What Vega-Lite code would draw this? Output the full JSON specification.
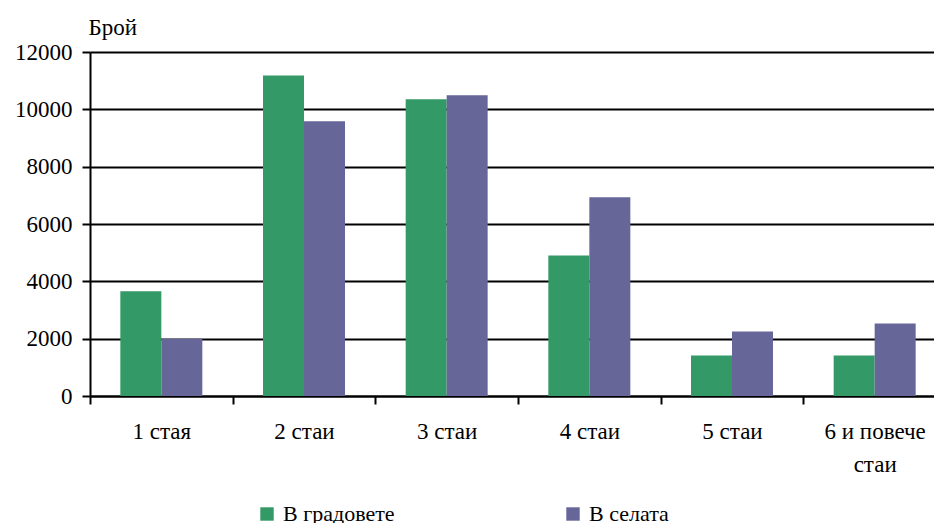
{
  "$schema": "https://vega.github.io/schema/vega-lite/v6.json",
  "autosize": "none",
  "width": 856,
  "height": 344,
  "padding": {"left": 90, "top": 52, "right": 0, "bottom": 127},
  "background": "white",
  "config": {
    "view": {"stroke": null},
    "font": "'Liberation Serif', 'Times New Roman', Tinos, 'DejaVu Serif', serif",
    "axis": {"labelColor": "black", "titleColor": "black", "domainColor": "black", "tickColor": "black"}
  },
  "data": {
    "values": [
      {"cat": "1 стая", "series": "В градовете", "value": 3650},
      {"cat": "1 стая", "series": "В селата", "value": 1995},
      {"cat": "2 стаи", "series": "В градовете", "value": 11180},
      {"cat": "2 стаи", "series": "В селата", "value": 9580},
      {"cat": "3 стаи", "series": "В градовете", "value": 10350},
      {"cat": "3 стаи", "series": "В селата", "value": 10490},
      {"cat": "4 стаи", "series": "В градовете", "value": 4900},
      {"cat": "4 стаи", "series": "В селата", "value": 6930},
      {"cat": "5 стаи", "series": "В градовете", "value": 1410},
      {"cat": "5 стаи", "series": "В селата", "value": 2250},
      {"cat": "6 и повече стаи", "series": "В градовете", "value": 1410},
      {"cat": "6 и повече стаи", "series": "В селата", "value": 2530}
    ]
  },
  "mark": {"type": "bar"},
  "encoding": {
    "x": {
      "field": "cat",
      "type": "nominal",
      "sort": null,
      "scale": {"paddingInner": 0, "paddingOuter": 0},
      "axis": {
        "title": null,
        "labelAngle": 0,
        "labelFont": "'Liberation Serif', 'Times New Roman', Tinos, 'DejaVu Serif', serif",
        "labelFontSize": 23,
        "labelPadding": 16,
        "tickBand": "extent",
        "tickSize": 8,
        "tickWidth": 2,
        "domainWidth": 2,
        "labelLineHeight": 33,
        "labelBaseline": "top",
        "labelExpr": "datum.label == '6 и повече стаи' ? ['6 и повече', 'стаи'] : datum.label"
      }
    },
    "xOffset": {"field": "series", "type": "nominal", "scale": {"paddingInner": 0, "paddingOuter": 0.74}},
    "y": {
      "field": "value",
      "type": "quantitative",
      "scale": {"domain": [0, 12000], "nice": false},
      "axis": {
        "title": "Брой",
        "titleAngle": 0,
        "titleAlign": "left",
        "titleBaseline": "alphabetic",
        "titleX": -2,
        "titleY": -18,
        "titleFont": "'Liberation Serif', 'Times New Roman', Tinos, 'DejaVu Serif', serif",
        "titleFontSize": 23,
        "titleFontWeight": "normal",
        "values": [0, 2000, 4000, 6000, 8000, 10000, 12000],
        "format": "d",
        "labelFont": "'Liberation Serif', 'Times New Roman', Tinos, 'DejaVu Serif', serif",
        "labelFontSize": 23,
        "labelPadding": 10,
        "tickSize": 8,
        "tickWidth": 2,
        "domainWidth": 2,
        "grid": true,
        "gridColor": "black",
        "gridWidth": 2,
        "gridOpacity": 1
      }
    },
    "color": {
      "field": "series",
      "type": "nominal",
      "scale": {"domain": ["В градовете", "В селата"], "range": ["#339966", "#666699"]},
      "legend": {
        "title": null,
        "orient": "none",
        "direction": "horizontal",
        "columns": 2,
        "legendX": 166,
        "legendY": 451,
        "symbolType": "square",
        "symbolSize": 180,
        "symbolStrokeWidth": 0,
        "symbolOpacity": 1,
        "labelFont": "'Liberation Serif', 'Times New Roman', Tinos, 'DejaVu Serif', serif",
        "labelFontSize": 22,
        "labelColor": "black",
        "labelOffset": 5,
        "columnPadding": 167,
        "labelLimit": 300
      }
    }
  }
}
